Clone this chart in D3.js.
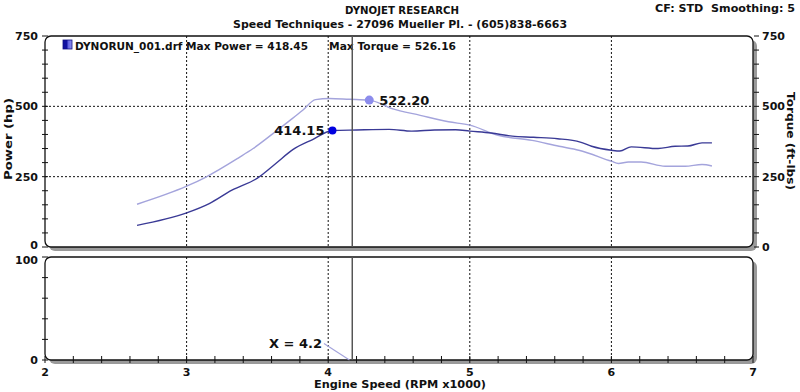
<!DOCTYPE html>
<html><head><meta charset="utf-8">
<script src="https://cdn.jsdelivr.net/npm/d3@7"></script>
<style>
html,body{margin:0;padding:0;background:#fff;}
text{font-family:"DejaVu Sans",Verdana,sans-serif;font-weight:bold;fill:#111;}
</style></head>
<body><svg id="c" width="800" height="392"></svg>
<script>
// ---- data ----
const powerRpm = [2.65, 3.0, 3.16, 3.32, 3.5, 3.63, 3.75, 3.89, 4.03, 4.2, 4.43, 4.59, 4.75, 4.9, 5.0, 5.15, 5.3, 5.45, 5.62, 5.78, 5.86, 6.0, 6.06, 6.14, 6.33, 6.45, 6.54, 6.64, 6.71];
const powerHp  = [77, 121, 154, 202, 245, 297, 346, 382, 414, 416, 418, 412, 416, 417, 412, 405, 394, 390, 385, 373, 358, 344, 341, 356, 350, 358, 359, 370, 370];
const torqueRpm = [2.65, 3.0, 3.13, 3.37, 3.47, 3.61, 3.73, 3.82, 3.91, 4.01, 4.15, 4.29, 4.45, 4.65, 4.85, 5.0, 5.2, 5.44, 5.63, 5.77, 6.0, 6.05, 6.12, 6.21, 6.38, 6.52, 6.64, 6.71];
const torqueFtLb = [152, 216, 247, 318, 350, 403, 450, 486, 524, 528, 525, 522, 492, 468, 445, 433, 397, 379, 358, 344, 305, 297, 302, 302, 287, 287, 293, 288];
const lowerRpm = [3.97, 4.15];
const lowerVal = [16, 0];
const xTicks = [2, 3, 4, 5, 6, 7];
const yTicksTop = [0, 250, 500, 750];
const yTicksBottom = [0, 100];
const powerMarker = {rpm: 4.03, value: 414.15, label: "414.15"};
const torqueMarker = {rpm: 4.29, value: 522.20, label: "522.20"};
const cursorRpm = 4.17;
const cursorLabel = "X = 4.2";
const titleText = "DYNOJET RESEARCH";
const subtitleText = "Speed Techniques - 27096 Mueller Pl. - (605)838-6663";
const cfText = "CF: STD\u00A0\u00A0Smoothing: 5";
const legendText = "DYNORUN_001.drf Max Power = 418.45";
const legendText2 = "Max Torque = 526.16";

// ---- layout ----
const svg = d3.select("#c");
const L = 45, R = 753;
const topY0 = 36, topY1 = 247, botY0 = 257, botY1 = 360;
const x = d3.scaleLinear().domain([2, 7]).range([L, R]);
const yTop = d3.scaleLinear().domain([0, 750]).range([topY1, topY0]);
const yBot = d3.scaleLinear().domain([0, 100]).range([botY1, botY0]);

function panel(y0, y1) {
  svg.append("rect").attr("x", L + 4).attr("y", y0 + 4).attr("width", R - L).attr("height", y1 - y0)
    .attr("rx", 6).attr("fill", "#9a9a9a");
  svg.append("rect").attr("x", L).attr("y", y0).attr("width", R - L).attr("height", y1 - y0)
    .attr("rx", 6).attr("fill", "#fff").attr("stroke", "#111").attr("stroke-width", 1.3);
}
panel(topY0, topY1);
panel(botY0, botY1);

// grid
const g = svg.append("g").attr("stroke", "#111").attr("stroke-width", 1).attr("stroke-dasharray", "2,2");
[3, 4, 5, 6].forEach(v => {
  g.append("line").attr("x1", x(v)).attr("x2", x(v)).attr("y1", topY0).attr("y2", topY1);
  g.append("line").attr("x1", x(v)).attr("x2", x(v)).attr("y1", botY0).attr("y2", botY1);
});
[250, 500].forEach(v => {
  g.append("line").attr("x1", L).attr("x2", R).attr("y1", yTop(v)).attr("y2", yTop(v));
});

// ticks
const tk = svg.append("g").attr("stroke", "#111").attr("stroke-width", 1);
d3.range(0, 751, 50).forEach(v => {
  tk.append("line").attr("x1", L - 3).attr("x2", L + 3).attr("y1", yTop(v)).attr("y2", yTop(v));
  tk.append("line").attr("x1", R + 1).attr("x2", R + 6).attr("y1", yTop(v)).attr("y2", yTop(v));
});
d3.range(0, 101, 20).forEach(v => {
  tk.append("line").attr("x1", L - 3).attr("x2", L + 3).attr("y1", yBot(v)).attr("y2", yBot(v));
});
d3.range(2, 7.001, 0.2).forEach(v => {
  tk.append("line").attr("x1", x(v)).attr("x2", x(v)).attr("y1", botY1 - 4).attr("y2", botY1 + 3);
});

// tick labels
const fs = 11;
yTicksTop.forEach(v => {
  const dy = v === 0 ? 2 : 4;
  svg.append("text").attr("x", 38).attr("y", yTop(v) + dy).attr("text-anchor", "end").attr("font-size", fs).text(v);
  svg.append("text").attr("x", 762).attr("y", yTop(v) + 4).attr("text-anchor", "start").attr("font-size", fs).text(v);
});
yTicksBottom.forEach(v => {
  const dy = v === 100 ? 7 : 4;
  svg.append("text").attr("x", 38).attr("y", yBot(v) + dy).attr("text-anchor", "end").attr("font-size", fs).text(v);
});
xTicks.forEach(v => {
  svg.append("text").attr("x", x(v)).attr("y", 376).attr("text-anchor", "middle").attr("font-size", fs).text(v);
});

// axis titles
svg.append("text").attr("x", 400).attr("y", 388).attr("text-anchor", "middle").attr("font-size", fs)
  .attr("textLength", 172).attr("lengthAdjust", "spacingAndGlyphs").text("Engine Speed (RPM x1000)");
svg.append("text").attr("transform", "translate(12,139) rotate(-90)").attr("text-anchor", "middle").attr("font-size", fs)
  .attr("textLength", 82).attr("lengthAdjust", "spacingAndGlyphs").text("Power (hp)");
svg.append("text").attr("transform", "translate(787,141) rotate(90)").attr("text-anchor", "middle").attr("font-size", fs)
  .attr("textLength", 98).attr("lengthAdjust", "spacingAndGlyphs").text("Torque (ft-lbs)");

// header
svg.append("text").attr("x", 402).attr("y", 14).attr("text-anchor", "middle").attr("font-size", fs)
  .attr("textLength", 114).attr("lengthAdjust", "spacingAndGlyphs").text(titleText);
svg.append("text").attr("x", 400).attr("y", 28).attr("text-anchor", "middle").attr("font-size", fs)
  .attr("textLength", 334).attr("lengthAdjust", "spacingAndGlyphs").text(subtitleText);
svg.append("text").attr("x", 655).attr("y", 12).attr("font-size", fs)
  .attr("textLength", 140).attr("lengthAdjust", "spacingAndGlyphs").text(cfText);

// legend
const grad = svg.append("defs").append("linearGradient").attr("id", "lg");
grad.append("stop").attr("offset", "0%").attr("stop-color", "#1010a0");
grad.append("stop").attr("offset", "45%").attr("stop-color", "#1010a0");
grad.append("stop").attr("offset", "55%").attr("stop-color", "#6060e0");
grad.append("stop").attr("offset", "100%").attr("stop-color", "#9090f0");
svg.append("rect").attr("x", 63).attr("y", 40).attr("width", 9).attr("height", 9).attr("fill", "url(#lg)").attr("stroke", "#101080").attr("stroke-width", 0.8);
svg.append("text").attr("x", 75).attr("y", 50).attr("font-size", fs)
  .attr("textLength", 233).attr("lengthAdjust", "spacingAndGlyphs").text(legendText);
svg.append("text").attr("x", 329).attr("y", 50).attr("font-size", fs)
  .attr("textLength", 127).attr("lengthAdjust", "spacingAndGlyphs").text(legendText2);

// curves
const lineTop = d3.line().x(d => x(d[0])).y(d => yTop(d[1])).curve(d3.curveMonotoneX);
svg.append("path").attr("d", lineTop(d3.zip(torqueRpm, torqueFtLb)))
  .attr("fill", "none").attr("stroke", "#a4a4dc").attr("stroke-width", 1.4);
svg.append("path").attr("d", lineTop(d3.zip(powerRpm, powerHp)))
  .attr("fill", "none").attr("stroke", "#3a3a96").attr("stroke-width", 1.4);
const lineBot = d3.line().x(d => x(d[0])).y(d => yBot(d[1]));
svg.append("path").attr("d", lineBot(d3.zip(lowerRpm, lowerVal)))
  .attr("fill", "none").attr("stroke", "#a4a4dc").attr("stroke-width", 1.1);

// cursor
svg.append("line").attr("x1", x(cursorRpm)).attr("x2", x(cursorRpm)).attr("y1", topY0).attr("y2", topY1)
  .attr("stroke", "#555").attr("stroke-width", 1.5);
svg.append("line").attr("x1", x(cursorRpm)).attr("x2", x(cursorRpm)).attr("y1", botY0).attr("y2", botY1)
  .attr("stroke", "#555").attr("stroke-width", 1.5);

// markers
svg.append("circle").attr("cx", x(powerMarker.rpm)).attr("cy", yTop(powerMarker.value)).attr("r", 4).attr("fill", "#0000e0");
svg.append("text").attr("x", x(powerMarker.rpm) - 8).attr("y", yTop(powerMarker.value) + 5).attr("text-anchor", "end")
  .attr("font-size", 13).text(powerMarker.label);
svg.append("circle").attr("cx", x(torqueMarker.rpm)).attr("cy", yTop(torqueMarker.value)).attr("r", 4.5).attr("fill", "#8c8cec");
svg.append("text").attr("x", x(torqueMarker.rpm) + 10).attr("y", yTop(torqueMarker.value) + 5)
  .attr("font-size", 13).text(torqueMarker.label);
svg.append("text").attr("x", 322).attr("y", 348).attr("text-anchor", "end").attr("font-size", 13).text(cursorLabel);
</script></body></html>
